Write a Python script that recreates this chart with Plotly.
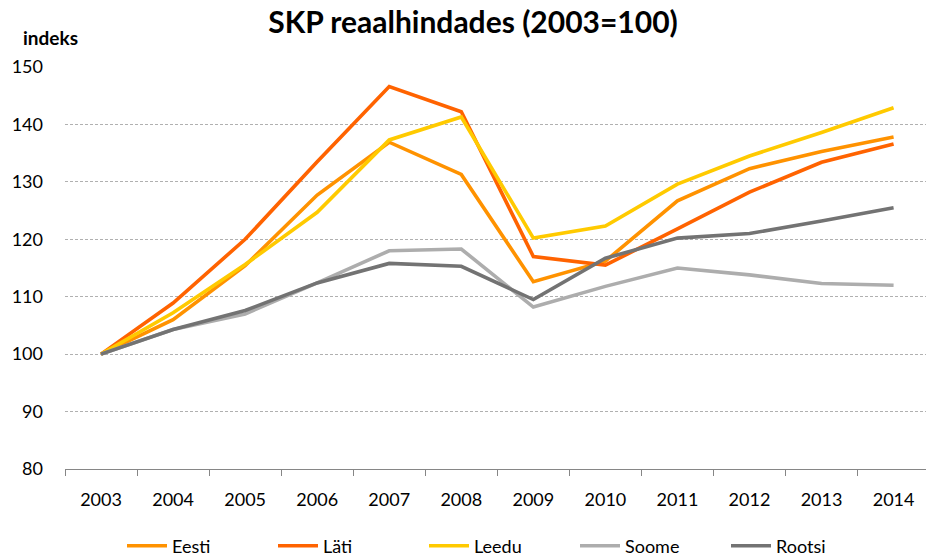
import plotly.graph_objects as go

years = ["2003", "2004", "2005", "2006", "2007", "2008", "2009", "2010", "2011", "2012", "2013", "2014"]
eesti = [100, 106.0, 115.4, 127.7, 136.9, 131.3, 112.6, 116.2, 126.7, 132.3, 135.3, 137.8]
lati = [100, 108.9, 120.0, 133.5, 146.6, 142.2, 117.0, 115.5, 121.8, 128.2, 133.4, 136.6]
leedu = [100, 107.2, 115.6, 124.7, 137.3, 141.3, 120.2, 122.3, 129.6, 134.5, 138.6, 142.9]
soome = [100, 104.3, 107.0, 112.4, 118.0, 118.3, 108.2, 111.8, 115.0, 113.8, 112.3, 112.0]
rootsi = [100, 104.3, 107.6, 112.4, 115.8, 115.3, 109.5, 116.7, 120.2, 121.0, 123.2, 125.5]

series = [
    ("Eesti", eesti, "#FF9200"),
    ("Läti", lati, "#FF6300"),
    ("Leedu", leedu, "#FFCA00"),
    ("Soome", soome, "#ADADAD"),
    ("Rootsi", rootsi, "#737373"),
]

FONT = "Lato"
L, R, T, B = 65, 0, 67, 88
PW, PH = 926 - L - R, 557 - T - B

fig = go.Figure()
for name, vals, col in series:
    fig.add_trace(go.Scatter(x=years, y=vals, name=name, mode="lines",
                             line=dict(color=col, width=3.6)))

fig.update_layout(
    width=926, height=557,
    paper_bgcolor="white", plot_bgcolor="white",
    margin=dict(l=L, r=R, t=T, b=B, autoexpand=False),
    font=dict(family=FONT, size=17, color="#000000"),
    title=dict(text="<b>SKP reaalhindades (2003=100)</b>", x=473 / 926, xanchor="center",
               y=1 - 22 / 557, yanchor="middle", font=dict(family=FONT, size=30, color="#000000")),
    showlegend=True,
    legend=dict(orientation="h", x=(122 - L) / PW, xanchor="left", y=-(546 - T - PH) / PH,
                yanchor="middle", font=dict(family=FONT, size=18),
                entrywidth=96, entrywidthmode="pixels", itemwidth=40, tracegroupgap=0),
    annotations=[dict(text="<b>indeks</b>", xref="paper", yref="paper", x=(21 - L) / PW,
                      xanchor="left", y=1 + 30 / PH, yanchor="middle", showarrow=False,
                      font=dict(family=FONT, size=19, color="#000000"))],
)
fig.update_xaxes(type="category", range=[-0.5, 11.45], showgrid=False, automargin=False,
                 showline=True, linecolor="#868686", linewidth=1,
                 ticks="outside", tickson="boundaries", ticklen=6, tickcolor="#868686",
                 ticklabelstandoff=14, tickfont=dict(size=18))
fig.update_yaxes(range=[80, 150], dtick=10, showgrid=True, gridcolor="#B0B0B0", automargin=False,
                 griddash="3px,2px", gridwidth=1, zeroline=False, showline=False,
                 ticks="", ticklabelstandoff=21, tickfont=dict(size=18))

fig.write_html("out.html", config={"displayModeBar": False},
               post_script="document.body.style.margin='0';")
